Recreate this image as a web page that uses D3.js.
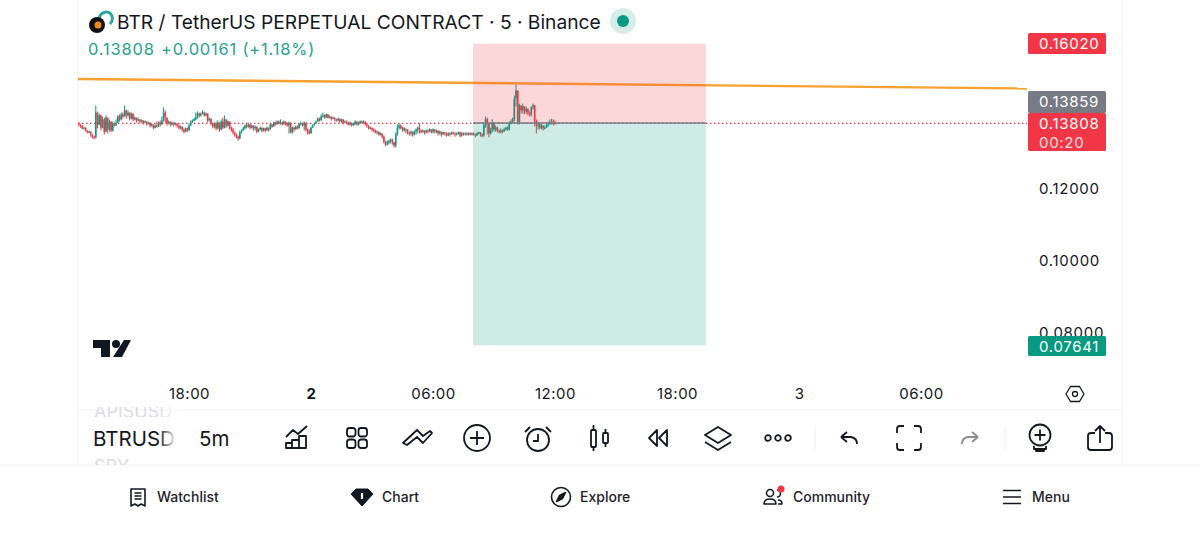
<!DOCTYPE html>
<html>
<head>
<meta charset="utf-8">
<script src="https://cdn.jsdelivr.net/npm/d3@7"></script>
<style>
  html, body { margin: 0; background: #fff; overflow: hidden; }
  text { font-family: Inter, "Noto Sans", sans-serif; }
</style>
</head>
<body>
<div id="chart"></div>
<script>
// candle closes, every 5 minutes from 12:30 on the 1st (open = previous close)
const firstOpen = 0.1386;
const closes = [
  .1383,.1378,.1375,.1367,.1369,.1361,.1356,.1358,.1350,.1344,
  .1342,.1411,.1378,.1403,.1369,.1392,.1358,.1397,.1364,.1386,
  .1361,.1381,.1375,.1383,.1400,.1392,.1406,.1400,.1417,.1403,
  .1411,.1394,.1408,.1392,.1397,.1389,.1392,.1386,.1389,.1383,
  .1386,.1381,.1383,.1375,.1378,.1369,.1375,.1372,.1383,.1378,
  .1389,.1411,.1397,.1381,.1386,.1378,.1383,.1378,.1381,.1375,
  .1369,.1372,.1364,.1358,.1367,.1361,.1375,.1383,.1389,.1392,
  .1397,.1408,.1403,.1408,.1411,.1403,.1408,.1389,.1394,.1381,
  .1372,.1381,.1367,.1383,.1364,.1386,.1369,.1392,.1375,.1386,
  .1369,.1364,.1356,.1350,.1344,.1339,.1356,.1361,.1367,.1375,
  .1372,.1378,.1369,.1375,.1367,.1372,.1358,.1364,.1369,.1361,
  .1367,.1361,.1369,.1364,.1378,.1372,.1383,.1378,.1386,.1381,
  .1383,.1378,.1386,.1381,.1375,.1383,.1356,.1369,.1364,.1372,
  .1367,.1378,.1381,.1375,.1383,.1364,.1358,.1353,.1369,.1375,
  .1381,.1386,.1394,.1389,.1400,.1403,.1397,.1406,.1397,.1400,
  .1394,.1397,.1392,.1389,.1394,.1386,.1392,.1383,.1386,.1383,
  .1378,.1383,.1375,.1381,.1386,.1378,.1381,.1386,.1383,.1386,
  .1378,.1375,.1367,.1369,.1364,.1361,.1356,.1358,.1350,.1353,
  .1344,.1330,.1322,.1328,.1333,.1336,.1328,.1319,.1350,.1369,
  .1375,.1367,.1369,.1361,.1364,.1356,.1353,.1358,.1350,.1358,
  .1364,.1369,.1361,.1356,.1361,.1356,.1361,.1358,.1364,.1358,
  .1364,.1358,.1361,.1353,.1358,.1350,.1356,.1353,.1347,.1353,
  .1350,.1356,.1353,.1350,.1353,.1356,.1347,.1353,.1350,.1353,
  .1350,.1353,.1350,.1353,.1350,.1347,.1353,.1356,.1350,.1347,
  .1375,.1392,.1381,.1353,.1364,.1381,.1364,.1369,.1361,.1358,
  .1361,.1358,.1364,.1369,.1364,.1381,.1386,.1392,.1450,.1472,
  .1383,.1431,.1417,.1428,.1414,.1422,.1411,.1406,.1425,.1431,
  .1389,.1375,.1378,.1369,.1375,.1367,.1369,.1375,.1378,.1383,.1386,.1381,.13808
];
const highs = [
  .1386,.1383,.1378,.1375,.1372,.1369,.1361,.1361,.1358,.1350,
  .1347,.1431,.1414,.1408,.1406,.1400,.1397,.1403,.1397,.1392,
  .1386,.1386,.1383,.1392,.1403,.1406,.1411,.1411,.1431,.1419,
  .1417,.1411,.1411,.1408,.1400,.1397,.1397,.1392,.1392,.1389,
  .1389,.1386,.1386,.1383,.1381,.1378,.1378,.1386,.1386,.1389,
  .1400,.1425,.1417,.1397,.1389,.1386,.1386,.1383,.1383,.1381,
  .1378,.1375,.1372,.1367,.1369,.1369,.1381,.1389,.1392,.1397,
  .1411,.1414,.1411,.1411,.1417,.1414,.1411,.1408,.1397,.1392,
  .1383,.1383,.1386,.1389,.1383,.1392,.1397,.1403,.1392,.1389,
  .1378,.1372,.1369,.1358,.1353,.1347,.1361,.1364,.1372,.1378,
  .1381,.1383,.1378,.1378,.1375,.1375,.1372,.1367,.1372,.1369,
  .1369,.1369,.1372,.1369,.1381,.1378,.1386,.1386,.1389,.1389,
  .1392,.1386,.1389,.1386,.1383,.1386,.1383,.1372,.1372,.1375,
  .1375,.1381,.1386,.1383,.1386,.1383,.1367,.1364,.1372,.1378,
  .1383,.1389,.1397,.1397,.1406,.1411,.1406,.1408,.1406,.1403,
  .1400,.1400,.1397,.1394,.1397,.1394,.1394,.1392,.1389,.1389,
  .1386,.1386,.1383,.1383,.1389,.1386,.1386,.1389,.1389,.1389,
  .1386,.1381,.1375,.1372,.1369,.1367,.1364,.1361,.1358,.1356,
  .1353,.1347,.1333,.1333,.1336,.1339,.1339,.1330,.1356,.1378,
  .1381,.1378,.1372,.1369,.1367,.1364,.1358,.1361,.1358,.1361,
  .1367,.1372,.1381,.1364,.1364,.1361,.1364,.1364,.1367,.1364,
  .1367,.1364,.1364,.1361,.1361,.1358,.1358,.1356,.1356,.1356,
  .1356,.1358,.1358,.1356,.1356,.1358,.1358,.1356,.1356,.1356,
  .1356,.1356,.1356,.1356,.1356,.1353,.1356,.1358,.1356,.1353,
  .1381,.1400,.1397,.1383,.1369,.1392,.1383,.1375,.1372,.1364,
  .1367,.1364,.1369,.1372,.1372,.1386,.1392,.1397,.1458,.1489,
  .1472,.1436,.1431,.1436,.1428,.1428,.1422,.1414,.1428,.1436,
  .1408,.1392,.1386,.1381,.1381,.1375,.1375,.1381,.1386,.1392,.1394,.1392,.1389
];
const lows = [
  .1378,.1372,.1369,.1364,.1364,.1358,.1353,.1353,.1344,.1339,
  .1336,.1339,.1367,.1375,.1361,.1367,.1350,.1358,.1353,.1358,
  .1356,.1358,.1372,.1375,.1383,.1386,.1389,.1394,.1400,.1394,
  .1400,.1389,.1392,.1386,.1389,.1383,.1386,.1381,.1383,.1378,
  .1381,.1375,.1378,.1369,.1372,.1364,.1367,.1369,.1372,.1372,
  .1378,.1386,.1381,.1375,.1378,.1372,.1375,.1372,.1375,.1369,
  .1364,.1364,.1358,.1353,.1356,.1356,.1361,.1375,.1383,.1386,
  .1389,.1394,.1397,.1400,.1406,.1400,.1400,.1383,.1386,.1375,
  .1367,.1367,.1361,.1364,.1358,.1361,.1364,.1367,.1369,.1372,
  .1364,.1358,.1350,.1344,.1339,.1333,.1336,.1353,.1361,.1364,
  .1367,.1369,.1364,.1367,.1361,.1361,.1353,.1356,.1361,.1356,
  .1358,.1356,.1361,.1358,.1364,.1369,.1372,.1375,.1378,.1378,
  .1378,.1375,.1378,.1375,.1372,.1353,.1353,.1353,.1358,.1364,
  .1364,.1367,.1375,.1372,.1361,.1358,.1350,.1350,.1353,.1369,
  .1375,.1381,.1386,.1386,.1389,.1397,.1394,.1397,.1394,.1394,
  .1389,.1392,.1386,.1386,.1386,.1383,.1383,.1378,.1381,.1378,
  .1375,.1375,.1372,.1375,.1375,.1375,.1375,.1378,.1381,.1381,
  .1375,.1369,.1364,.1364,.1358,.1356,.1353,.1350,.1347,.1347,
  .1339,.1325,.1317,.1319,.1322,.1325,.1322,.1314,.1314,.1347,
  .1364,.1364,.1358,.1358,.1353,.1350,.1347,.1347,.1344,.1347,
  .1350,.1353,.1353,.1353,.1356,.1350,.1353,.1353,.1356,.1353,
  .1353,.1353,.1353,.1347,.1350,.1344,.1350,.1347,.1344,.1347,
  .1344,.1350,.1350,.1344,.1347,.1350,.1342,.1344,.1347,.1347,
  .1347,.1347,.1347,.1347,.1347,.1342,.1347,.1350,.1344,.1342,
  .1344,.1369,.1350,.1342,.1350,.1356,.1358,.1358,.1356,.1353,
  .1353,.1353,.1358,.1361,.1361,.1361,.1378,.1381,.1386,.1428,
  .1378,.1378,.1408,.1408,.1406,.1408,.1403,.1400,.1400,.1419,
  .1372,.1353,.1364,.1364,.1364,.1361,.1364,.1369,.1372,.1378,.1378,.1375,.1378
];

const priceTicks = [0.08, 0.10, 0.12];
const timeTicks = ["18:00", "2", "06:00", "12:00", "18:00", "3", "06:00"];

const trendPrices = [0.15042, 0.14778];
const lastPrice = 0.13808;
const stopPrice = 0.16020;
const entryPrice = 0.13820;
const targetPrice = 0.07641;

const width = 1200, height = 552;
const green = "#089981", red = "#f23645", gray = "#787b86", ink = "#131722";

const hour = 3600000;
const t0 = Date.UTC(2025, 10, 1, 18); // 18:00 on the 1st, first tick
const start = t0 - 5.5 * hour;

const x = d3.scaleUtc().domain([t0, t0 + 36 * hour]).range([189, 921]);
const y = d3.scaleLinear().domain([0.08, 0.12]).range([332.5, 188.5]);

const svg = d3.select("#chart").append("svg")
  .attr("width", width).attr("height", height)
  .style("display", "block");

svg.append("rect").attr("width", width).attr("height", height).attr("fill", "#fff");

const defs = svg.append("defs");
defs.append("clipPath").attr("id", "pane").append("rect")
  .attr("x", 78).attr("y", 0).attr("width", 949).attr("height", 405);
const fade = defs.append("linearGradient").attr("id", "fade");
fade.append("stop").attr("offset", 0).attr("stop-color", "#fff").attr("stop-opacity", 0);
fade.append("stop").attr("offset", 1).attr("stop-color", "#fff");

// app frame
[[78, 0, 78, 465], [1122, 0, 1122, 465], [78, 410, 1122, 410], [0, 465, 1200, 465]].forEach(l => {
  svg.append("line").attr("x1", l[0]).attr("y1", l[1]).attr("x2", l[2]).attr("y2", l[3])
    .attr("stroke", "#f3f3f3");
});

// Price axis
const yAxis = svg.append("g")
  .attr("transform", "translate(1039,0)")
  .call(d3.axisRight(y).tickValues(priceTicks).tickSize(0).tickPadding(0).tickFormat(d3.format(".5f")));
yAxis.select(".domain").remove();
yAxis.selectAll("text").attr("font-size", 15).attr("fill", "#131722")
  .style("font-family", "Inter, sans-serif").attr("letter-spacing", 0.7);

// Time axis
const xAxis = svg.append("g")
  .attr("transform", "translate(0,394)")
  .call(d3.axisBottom(x)
    .tickValues(timeTicks.map((d, i) => t0 + i * 6 * hour))
    .tickSize(0).tickPadding(0)
    .tickFormat((d, i) => timeTicks[i]));
xAxis.select(".domain").remove();
xAxis.selectAll("text").attr("font-size", 15).attr("fill", "#131722").attr("dy", "0.35em")
  .style("font-family", "Inter, sans-serif").attr("letter-spacing", 0.5)
  .attr("font-weight", (d, i) => timeTicks[i] === "2" ? 700 : 400);

const pane = svg.append("g").attr("clip-path", "url(#pane)");

// Last price line
pane.append("line")
  .attr("x1", 78).attr("x2", 1027)
  .attr("y1", y(lastPrice)).attr("y2", y(lastPrice))
  .attr("stroke", red).attr("stroke-width", 1.2).attr("stroke-dasharray", "1.5 2.5");

// Candles
const candles = closes.map((c, i) => ({
  time: start + i * 5 * 60000,
  open: i ? closes[i - 1] : firstOpen,
  close: c,
  high: highs[i],
  low: lows[i]
}));

pane.selectAll("line.wick").data(candles).enter().append("line")
  .attr("class", "wick")
  .attr("x1", d => x(d.time)).attr("x2", d => x(d.time))
  .attr("y1", d => y(Math.max(d.high, d.open, d.close)))
  .attr("y2", d => y(Math.min(d.low, d.open, d.close)))
  .attr("stroke", d => d.close >= d.open ? green : red)
  .attr("stroke-width", 1);

pane.selectAll("rect.body").data(candles).enter().append("rect")
  .attr("class", "body")
  .attr("x", d => x(d.time) - 0.8)
  .attr("width", 1.6)
  .attr("y", d => y(Math.max(d.open, d.close)))
  .attr("height", d => Math.max(1, Math.abs(y(d.open) - y(d.close))))
  .attr("fill", d => d.close >= d.open ? green : red);

// Trend line
pane.append("line")
  .attr("x1", x(start)).attr("x2", 1027)
  .attr("y1", y(trendPrices[0])).attr("y2", y(trendPrices[1]))
  .attr("stroke", "#f9a12e").attr("stroke-width", 2.4);

// Short position box
const boxL = x(t0 + 13.97 * hour), boxR = x(t0 + 25.42 * hour);
pane.append("rect").attr("x", boxL).attr("width", boxR - boxL)
  .attr("y", y(stopPrice)).attr("height", y(entryPrice) - y(stopPrice))
  .attr("fill", red).attr("fill-opacity", 0.2);
pane.append("rect").attr("x", boxL).attr("width", boxR - boxL)
  .attr("y", y(entryPrice)).attr("height", y(targetPrice) - y(entryPrice))
  .attr("fill", green).attr("fill-opacity", 0.2);
pane.append("line").attr("x1", boxL).attr("x2", boxR)
  .attr("y1", y(entryPrice)).attr("y2", y(entryPrice))
  .attr("stroke", gray).attr("stroke-width", 1.4);

// Price labels
function priceLabel(top, h, fill, lines) {
  svg.append("rect").attr("x", 1028).attr("y", top).attr("width", 78).attr("height", h)
    .attr("rx", 1.5).attr("fill", fill);
  lines.forEach((t, i) => {
    svg.append("text").attr("x", 1039).attr("y", top + 16 + i * 19)
      .attr("font-size", 15).attr("fill", "#fff").attr("fill-opacity", i ? 0.85 : 1)
      .attr("letter-spacing", 0.7).text(t);
  });
}
priceLabel(33, 21, red, ["0.16020"]);
priceLabel(91, 22, gray, ["0.13859"]);
priceLabel(113, 38, red, ["0.13808", "00:20"]);
priceLabel(336, 20, green, ["0.07641"]);

// Title and legend
svg.append("text").attr("x", 117).attr("y", 29).attr("font-size", 19.2).attr("fill", ink)
  .text("BTR / TetherUS PERPETUAL CONTRACT · 5 · Binance");
svg.append("text").attr("x", 88).attr("y", 55).attr("font-size", 16.5).attr("letter-spacing", 0.8)
  .attr("fill", "#26a28c").text("0.13808");
svg.append("text").attr("x", 161).attr("y", 55).attr("font-size", 16.5).attr("letter-spacing", 0.8)
  .attr("fill", "#26a28c").text("+0.00161 (+1.18%)");
svg.append("circle").attr("cx", 623).attr("cy", 21).attr("r", 13).attr("fill", "#d6edea");
svg.append("circle").attr("cx", 623).attr("cy", 21).attr("r", 6).attr("fill", green);

// Symbol logo
svg.append("path").attr("d", "M99,19 A7.5,7.5 0 0 1 110,13 A7.5,7.5 0 0 1 110,24")
  .attr("fill", "none").attr("stroke", "#2aa6a0").attr("stroke-width", 3);
svg.append("circle").attr("cx", 97).attr("cy", 25).attr("r", 8).attr("fill", "#111");
svg.append("circle").attr("cx", 98).attr("cy", 25).attr("r", 3.5).attr("fill", "#f08a1c");

// TradingView mark
svg.append("path").attr("fill", "#131722")
  .attr("d", "M93,340 H110 V357 H101 V348 H93 Z M124,340 H131 L122,357 H113 Z");
svg.append("circle").attr("cx", 116).attr("cy", 344).attr("r", 4).attr("fill", "#131722");

// Settings hexagon
icon(1075, 394, g => {
  g.append("path").attr("d", "M-4.5,-7.5 H4.5 L9,0 L4.5,7.5 H-4.5 L-9,0 Z");
  g.append("circle").attr("r", 2.5);
}, 1.3);

// Toolbar
defs.append("clipPath").attr("id", "ghostTop").append("rect")
  .attr("x", 78).attr("y", 407).attr("width", 98).attr("height", 10);
defs.append("clipPath").attr("id", "ghostBottom").append("rect")
  .attr("x", 78).attr("y", 457).attr("width", 98).attr("height", 8);
svg.append("text").attr("x", 94).attr("y", 418).attr("font-size", 18).attr("fill", "#dcdcde")
  .attr("clip-path", "url(#ghostTop)").text("APISUSDT");
svg.append("text").attr("x", 94).attr("y", 473).attr("font-size", 18).attr("fill", "#dcdcde")
  .attr("clip-path", "url(#ghostBottom)").text("SPY");
svg.append("text").attr("x", 93).attr("y", 446).attr("font-size", 20.5).attr("fill", ink).text("BTRUSD");
svg.append("rect").attr("x", 158).attr("y", 404).attr("width", 19).attr("height", 50).attr("fill", "url(#fade)");
svg.append("text").attr("x", 199).attr("y", 446).attr("font-size", 20.5).attr("fill", ink).text("5m");

function icon(cx, cy, draw, sw, color) {
  const g = svg.append("g").attr("transform", `translate(${cx},${cy})`)
    .attr("fill", "none").attr("stroke", color || ink).attr("stroke-width", sw || 1.8)
    .attr("stroke-linejoin", "round");
  draw(g);
  return g;
}
const pathIcon = (d) => g => g.append("path").attr("d", d);

icon(296, 438, pathIcon("M-10,-1 L-3,-8 L2,-4 L11,-12 M-10,10 V5 H-4 V10 Z M-4,10 V2 H3 V10 M3,10 V-2 H10 V10 Z M-10,10 H10"));
icon(357, 438, g => {
  [[-10, -10], [1.5, -10], [-10, 1.5], [1.5, 1.5]].forEach(p => {
    g.append("rect").attr("x", p[0]).attr("y", p[1]).attr("width", 8.5).attr("height", 8.5).attr("rx", 2.5);
  });
});
icon(417, 438, pathIcon("M-14,5 L0,-8 L6,-2 L13,-7 L15,-5 L6,5 L0,-1 L-10,7 Z"));
icon(477, 438, g => {
  g.append("circle").attr("r", 13);
  g.append("path").attr("d", "M-7,0 H7 M0,-7 V7");
});
icon(538, 438, g => {
  g.append("circle").attr("cy", 2).attr("r", 11);
  g.append("path").attr("d", "M0,-4 V3 H-5 M-13,-6 L-8,-11 M13,-6 L8,-11");
});
icon(599, 438, g => {
  g.append("rect").attr("x", -8).attr("y", -8).attr("width", 5).attr("height", 17).attr("rx", 1);
  g.append("rect").attr("x", 4).attr("y", -5).attr("width", 5).attr("height", 10).attr("rx", 1);
  g.append("path").attr("d", "M-5.5,-13 V-8 M-5.5,9 V13 M6.5,-9 V-5 M6.5,5 V9");
});
icon(658, 438, pathIcon("M-1,-8 L-9,0 L-1,8 Z M9,-8 L1,0 L9,8 Z"));
icon(718, 438, pathIcon("M0,-11 L13,-3 L0,5 L-13,-3 Z M-13,4 L0,12 L13,4"));
icon(778, 438, g => {
  [-10, 0, 10].forEach(d => g.append("circle").attr("cx", d).attr("r", 2.8));
});
icon(849, 438, pathIcon("M-8,-1 L-2,-6 M-8,-1 L-2,4 M-8,-1 H2 Q8,0 8,6"));
icon(909, 438, pathIcon("M-12,-5 V-9 Q-12,-12 -9,-12 H-5 M5,-12 H9 Q12,-12 12,-9 V-5 M12,5 V9 Q12,12 9,12 H5 M-5,12 H-9 Q-12,12 -12,9 V5"));
icon(970, 438, pathIcon("M8,-1 L2,-6 M8,-1 L2,4 M8,-1 H-2 Q-8,0 -8,6"), 1.8, "#8b8b8b");
icon(1040, 438, g => {
  g.append("circle").attr("cy", -3).attr("r", 10.5);
  g.append("path").attr("d", "M-5.5,-3 H5.5 M0,-8.5 V2.5 M-6,8 V11 H6 V8 M-4,11 V13 H4 V11");
});
icon(1100, 438, pathIcon("M-5,-5 H-9 Q-12,-5 -12,-2 V9 Q-12,12 -9,12 H9 Q12,12 12,9 V-2 Q12,-5 9,-5 H5 M0,5 V-12 M-5,-7 L0,-12 L5,-7"));
[815, 1005].forEach(sx => {
  svg.append("line").attr("x1", sx).attr("x2", sx).attr("y1", 426).attr("y2", 450).attr("stroke", "#f0f0f0");
});

// Bottom navigation
const navLabels = [
  {text: "Watchlist", x: 157},
  {text: "Chart", x: 382},
  {text: "Explore", x: 580},
  {text: "Community", x: 793},
  {text: "Menu", x: 1032}
];
svg.selectAll("text.nav").data(navLabels).enter().append("text")
  .attr("class", "nav").attr("x", d => d.x).attr("y", 502)
  .attr("font-size", 14).attr("font-weight", 500).attr("fill", "#1f2229")
  .text(d => d.text);

icon(138, 497, pathIcon("M-7,-8 H7 V9 L3,7 L0,9 L-3,7 L-7,9 Z M-3.5,-4 H3.5 M-3.5,-1 H3.5 M-3.5,2 H3.5"), 1.6);
icon(362, 497, g => {
  g.append("path").attr("d", "M-6,-8 H6 L11,-3 L0,9 L-11,-3 Z").attr("fill", ink);
  g.append("path").attr("d", "M0,-4 V2").attr("stroke", "#fff").attr("stroke-width", 2.2);
}, 1);
icon(561, 497, g => {
  g.append("circle").attr("r", 9.5);
  g.append("path").attr("d", "M4.5,-4.5 L1.5,1.5 L-4.5,4.5 L-1.5,-1.5 Z").attr("fill", ink);
}, 1.6);
icon(773, 497, g => {
  g.append("circle").attr("cx", -3).attr("cy", -4).attr("r", 3.5);
  g.append("path").attr("d", "M-9,7 Q-9,2 -3,2 Q3,2 3,7 Z M4,-7 A3.5,3.5 0 0 1 4,0 M5,3 Q9,3 9,7 H5");
}, 1.5);
svg.append("circle").attr("cx", 781).attr("cy", 489).attr("r", 3.5).attr("fill", red);
icon(1012, 497, pathIcon("M-9,-6.5 H9 M-9,0 H9 M-9,6.5 H9"), 1.7);
</script>
</body>
</html>
